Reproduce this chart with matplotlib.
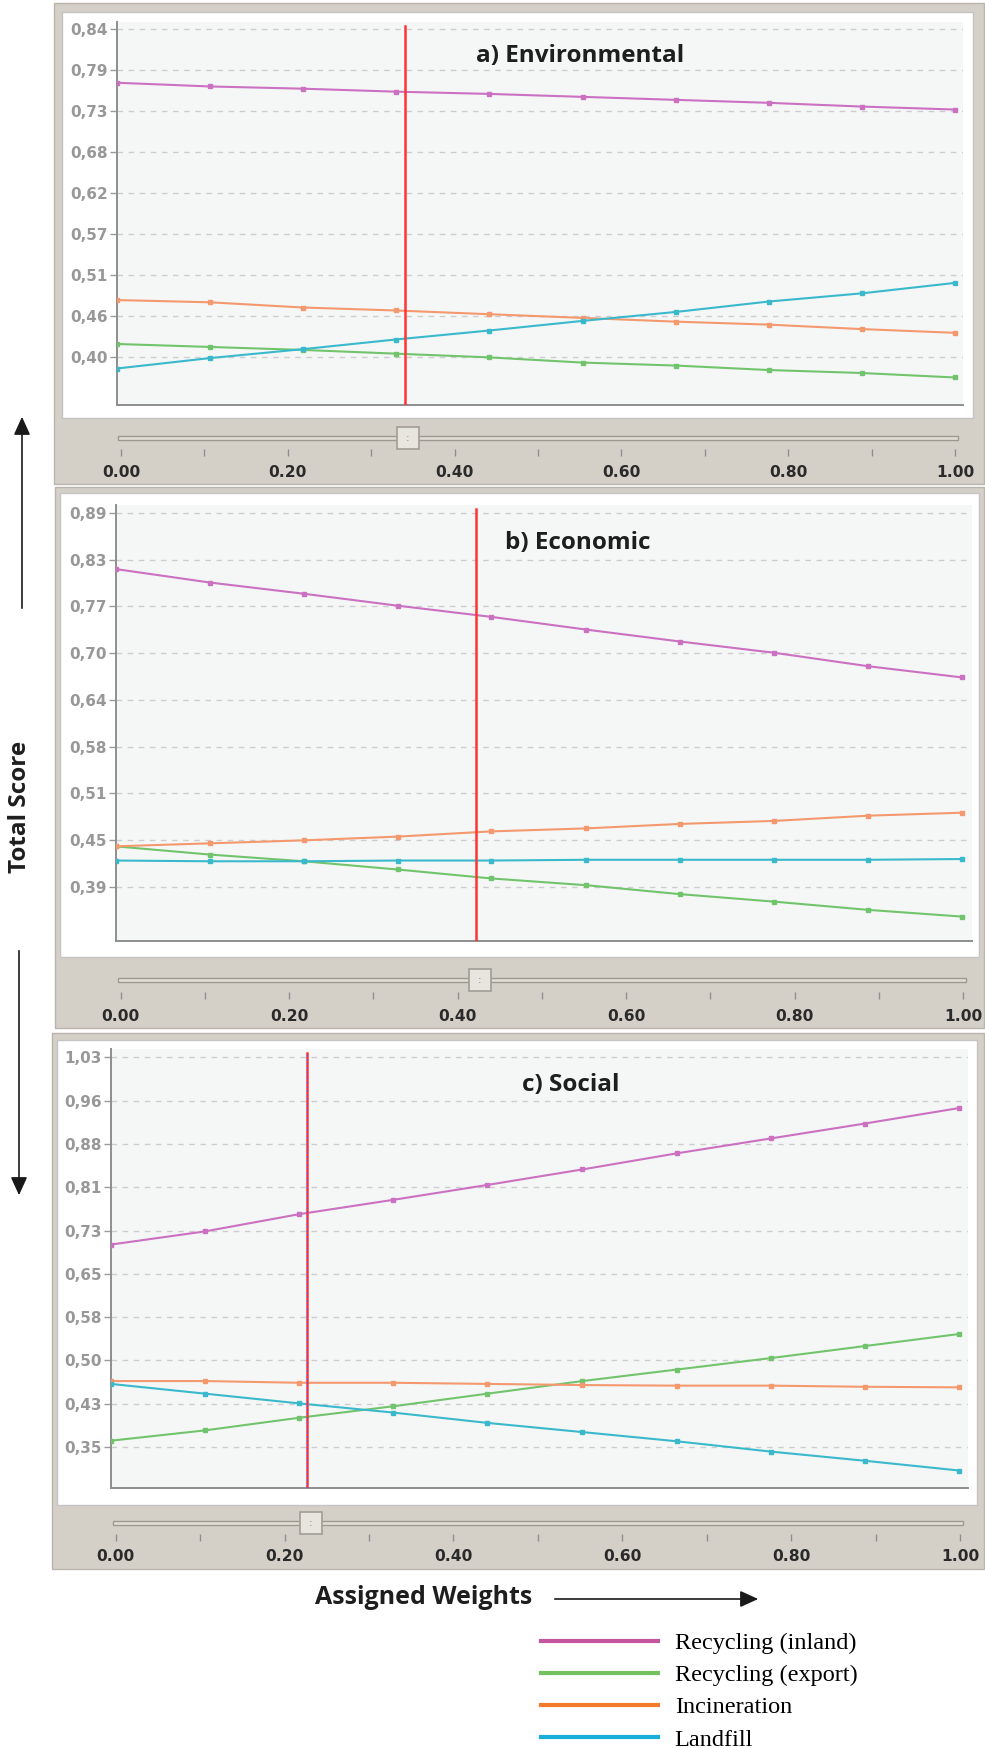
import matplotlib
matplotlib.use('Agg')
import matplotlib.pyplot as plt
from matplotlib.patches import Rectangle, FancyArrowPatch
from matplotlib.lines import Line2D
import numpy as np

W, H = 985, 1748

# ---- data ----
weights = [0.0, 0.111, 0.222, 0.333, 0.444, 0.556, 0.667, 0.778, 0.889, 1.0]
options = ['Recycling (inland)', 'Recycling (export)', 'Incineration', 'Landfill']
line_colors = ['#cc70c2', '#72c46c', '#f4986e', '#3bb9cc']
legend_colors = ['#c4559f', '#74c15f', '#f47b2c', '#1aafd8']

env_inland = [0.768, 0.763, 0.760, 0.756, 0.753, 0.749, 0.745, 0.741, 0.736, 0.732]
env_export = [0.417, 0.413, 0.409, 0.404, 0.399, 0.392, 0.388, 0.382, 0.378, 0.372]
env_incin = [0.476, 0.473, 0.466, 0.462, 0.457, 0.452, 0.447, 0.443, 0.437, 0.432]
env_landfill = [0.384, 0.398, 0.410, 0.423, 0.435, 0.448, 0.460, 0.474, 0.485, 0.499]

eco_inland = [0.815, 0.797, 0.782, 0.766, 0.751, 0.734, 0.718, 0.703, 0.685, 0.670]
eco_export = [0.444, 0.433, 0.424, 0.413, 0.401, 0.392, 0.380, 0.370, 0.359, 0.350]
eco_incin = [0.444, 0.448, 0.452, 0.457, 0.464, 0.468, 0.474, 0.478, 0.485, 0.489]
eco_landfill = [0.425, 0.424, 0.424, 0.425, 0.425, 0.426, 0.426, 0.426, 0.426, 0.427]

soc_inland = [0.705, 0.728, 0.758, 0.783, 0.809, 0.836, 0.864, 0.890, 0.916, 0.943]
soc_export = [0.363, 0.381, 0.403, 0.423, 0.445, 0.467, 0.487, 0.507, 0.528, 0.549]
soc_incin = [0.467, 0.467, 0.464, 0.464, 0.462, 0.460, 0.459, 0.459, 0.457, 0.456]
soc_landfill = [0.462, 0.445, 0.428, 0.412, 0.394, 0.378, 0.362, 0.344, 0.328, 0.311]

# selected weight (red line / slider knob)
env_weight = 0.344
eco_weight = 0.426
soc_weight = 0.231

env_ticks = ['0,40', '0,46', '0,51', '0,57', '0,62', '0,68', '0,73', '0,79', '0,84']
eco_ticks = ['0,39', '0,45', '0,51', '0,58', '0,64', '0,70', '0,77', '0,83', '0,89']
soc_ticks = ['0,35', '0,43', '0,50', '0,58', '0,65', '0,73', '0,81', '0,88', '0,96', '1,03']

slider_ticks = [0.0, 0.1, 0.2, 0.3, 0.4, 0.5, 0.6, 0.7, 0.8, 0.9, 1.0]
slider_labels = ['0.00', '', '0.20', '', '0.40', '', '0.60', '', '0.80', '', '1.00']

# ---- layout (pixels) ----
panels = [
    dict(title='a) Environmental', series=[env_inland, env_export, env_incin, env_landfill],
         weight=env_weight, labels=env_ticks, span=(0.40, 0.84), ylim=(0.335, 0.850), xmax=1.01,
         gray=(54, 3, 984, 484), white=(62, 12, 973, 418), ax=(116.7, 21.7, 963, 405),
         title_xy=(476, 56), slider=(121, 955, 438, 456, 6.2)),
    dict(title='b) Economic', series=[eco_inland, eco_export, eco_incin, eco_landfill],
         weight=eco_weight, labels=eco_ticks, span=(0.39, 0.89), ylim=(0.3176, 0.9007), xmax=1.0115,
         gray=(55, 487, 984, 1028), white=(60, 493, 979, 957), ax=(115.7, 505, 971.7, 940.8),
         title_xy=(505, 543), slider=(120.7, 963, 980, 999, 7.2)),
    dict(title='c) Social', series=[soc_inland, soc_export, soc_incin, soc_landfill],
         weight=soc_weight, labels=soc_ticks, span=(0.352, 1.0315), ylim=(0.2805, 1.046), xmax=1.0103,
         gray=(52, 1033, 984, 1569), white=(57, 1040, 977, 1505), ax=(111, 1049, 967.7, 1488),
         title_xy=(522, 1085), slider=(115.7, 960, 1523, 1541, 6.0)),
]


def fx(px):
    return px / W


def fy(py):
    return 1 - py / H


def box(x0, y0, x1, y1, fc, ec, z):
    r = Rectangle((fx(x0), fy(y1)), (x1 - x0) / W, (y1 - y0) / H, transform=fig.transFigure,
                  facecolor=fc, edgecolor=ec, lw=1, zorder=z)
    fig.add_artist(r)


fig = plt.figure(figsize=(W / 100, H / 100), dpi=100, facecolor='white')

for p in panels:
    box(*p['gray'], '#d4d0c8', '#b9b5ad', -3)
    box(*p['white'], '#ffffff', '#c4c4c4', -2)

    x0, y0, x1, y1 = p['ax']
    ax = fig.add_axes([fx(x0), fy(y1), (x1 - x0) / W, (y1 - y0) / H])
    ax.set_facecolor('#f5f7f7')
    ax.set_xlim(0, p['xmax'])
    ax.set_ylim(*p['ylim'])
    for s in ['top', 'right']:
        ax.spines[s].set_visible(False)
    for s in ['left', 'bottom']:
        ax.spines[s].set_color('#8e8e8e')
        ax.spines[s].set_linewidth(1.4)

    ticks = np.linspace(p['span'][0], p['span'][1], len(p['labels']))
    ax.set_yticks(ticks)
    ax.set_yticklabels(p['labels'], fontweight='bold', family='DejaVu Sans')
    ax.tick_params(axis='y', length=5, width=1, color='#9a9a9a', pad=1.5,
                   labelsize=11, labelcolor='#989898')
    ax.tick_params(axis='x', bottom=False, labelbottom=False)
    ax.yaxis.grid(True, linestyle=(0, (4, 4)), color='#cdcdcd', lw=1)
    ax.set_axisbelow(True)

    for vals, c in zip(p['series'], line_colors):
        ax.plot(weights, vals, color=c, lw=1.5, marker='s', ms=3.2, mfc=c, mec=c, zorder=3)

    ax.axvline(p['weight'], ymin=0, ymax=0.99, color='#ff3434', lw=1.8, zorder=4)
    if p['title'].startswith('c)'):
        ax.axvline(p['weight'], ymin=0, ymax=0.99, color='#4a5cff', lw=0.8,
                   linestyle=(0, (1.5, 2)), zorder=5)

    fig.text(fx(p['title_xy'][0]), fy(p['title_xy'][1]), p['title'], ha='left', va='center',
             fontsize=17.5, fontweight='bold', family='Open Sans', color='#1e1e1e')

    # slider strip under each chart
    sx0, sx1, track_y, tick_bottom, lab_pad = p['slider']
    top = track_y - 14
    sa = fig.add_axes([fx(sx0), fy(tick_bottom), (sx1 - sx0) / W, (tick_bottom - top) / H])
    sa.set_xlim(0, 1)
    sa.set_ylim(tick_bottom, top)
    sa.patch.set_visible(False)
    for s in sa.spines.values():
        s.set_visible(False)
    sa.set_yticks([])
    sa.set_xticks(slider_ticks)
    sa.set_xticklabels(slider_labels, fontweight='bold', family='DejaVu Sans')
    sa.tick_params(axis='x', direction='in', length=5, width=1, color='#8f8f8f',
                   pad=lab_pad, labelsize=11.2, labelcolor='#2a2a2a')
    sa.add_patch(Rectangle((-0.003, track_y - 2), 1.006, 4, facecolor='#e2ded6',
                           edgecolor='#9d998f', lw=1, clip_on=False))
    sa.plot([p['weight']], [track_y], marker='s', ms=16, mfc='#e8e5de', mec='#a29e96',
            mew=1.2, clip_on=False, zorder=5)
    sa.text(p['weight'], track_y, ':', ha='center', va='center', fontsize=8,
            color='#8a867e', zorder=6)

# axis captions with arrows
fig.text(fx(20), fy(807), 'Total Score', rotation=90, ha='center', va='center',
         fontsize=17.5, fontweight='bold', family='Open Sans', color='#1e1e1e')
fig.text(fx(424), fy(1597), 'Assigned Weights', ha='center', va='center',
         fontsize=18, fontweight='bold', family='Open Sans', color='#1e1e1e')

arrow_style = '-|>,head_length=0.55,head_width=0.25'
for a, b in [((22, 611), (22, 414)), ((19, 948), (19, 1198)), ((552, 1599), (761, 1599))]:
    fig.add_artist(FancyArrowPatch((fx(a[0]), fy(a[1])), (fx(b[0]), fy(b[1])),
                                   transform=fig.transFigure, arrowstyle=arrow_style,
                                   mutation_scale=20, lw=1.2, color='#1a1a1a'))

handles = [Line2D([], [], color=c, lw=3) for c in legend_colors]
fig.legend(handles, options, loc='upper left', bbox_to_anchor=(fx(541), fy(1632)),
           frameon=False, prop=dict(family='Liberation Serif', size=17.5),
           handlelength=4.8, handletextpad=0.7, labelspacing=0.42,
           borderpad=0, borderaxespad=0)

fig.savefig('out.png', dpi=100, facecolor='white')
